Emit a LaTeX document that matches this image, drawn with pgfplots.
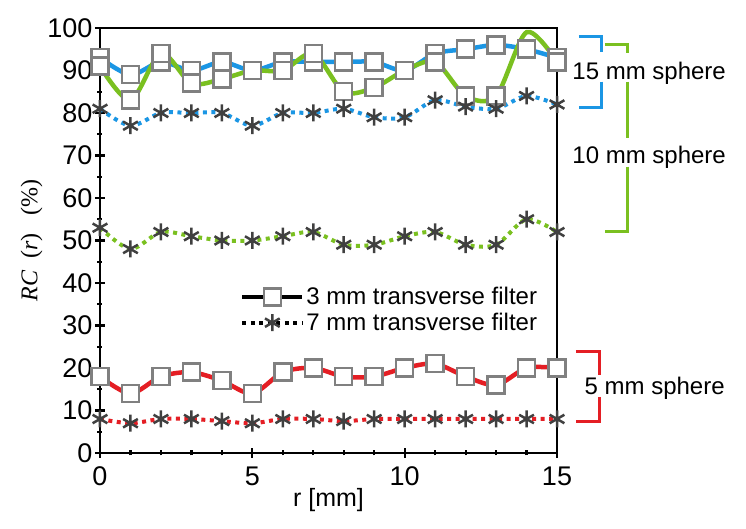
\documentclass[border=0pt]{standalone}
\usepackage{pgfplots}
\pgfplotsset{compat=1.18}
\usepackage{fontspec}
\setmainfont{Liberation Sans}
\newfontfamily\serifLS{Liberation Serif}
\definecolor{cblue}{RGB}{27,150,228}
\definecolor{cgreen}{RGB}{122,192,32}
\definecolor{cred}{RGB}{228,30,36}
\definecolor{mgray}{RGB}{128,128,128}
\definecolor{sgray}{RGB}{64,64,64}
\pgfplotstableread{
x b3 g3 r3 b7 g7 r7
0 93 91 18 81 53 8
1 89 83 14 77 48 7
2 92 94 18 80 52 8
3 90 87 19 80 51 8
4 92 88 17 80 50 7.5
5 90 90 14 77 50 7
6 92 90 19 80 51 8
7 92 94 20 80 52 8
8 92 85 18 81 49 7.5
9 92 86 18 79 49 8
10 90 90 20 79 51 8
11 94 92 21 83 52 8
12 95 84 18 81.5 49 8
13 96 84 16 81 49 8
14 95 99 20 84 55 8
15 93 92 20 82 52 8
}\data
\begin{document}
\begin{tikzpicture}
\pgfplotsset{
  sq/.style={mark=square*, mark size=8.5pt, mark options={solid, fill=white, draw=mgray, line width=2.5pt}},
  st/.style={mark=asterisk, mark size=8.5pt, mark options={solid, draw=sgray, line width=2.5pt}},
  solidline/.style={line width=4.5pt, smooth, tension=0.5},
  dotline/.style={line width=4pt, dash pattern=on 4pt off 4.5pt, smooth, tension=0.5},
}
\begin{axis}[
  name=ax,
  scale only axis, width=457pt, height=425pt,
  xmin=0, xmax=15, ymin=0, ymax=100,
  clip=false,
  axis line style={line width=2.2pt},
  xtick={0,5,10,15}, minor x tick num=4,
  ytick={0,10,...,100}, minor y tick num=1,
  tick pos=left, tick align=center,
  major tick length=10pt, minor tick length=5pt,
  every tick/.style={black, line width=2.2pt},
  tick label style={font=\fontsize{27}{30}\selectfont},
  /pgf/number format/assume math mode=true,
  xticklabel style={yshift=-5pt},
  yticklabel style={xshift=1pt},
  xlabel={r [mm]},
  xlabel style={font=\fontsize{25}{28}\selectfont, yshift=4pt},
  ylabel={{\serifLS\itshape RC}\ \ ({\serifLS\itshape r})\ \ \ ({\serifLS\%})},
  ylabel style={font=\fontsize{24}{28}\selectfont\serifLS, yshift=-2pt},
  legend style={at={(axis cs:4.6,39.5)}, anchor=north west, draw=none, fill=none,
    font=\fontsize{24}{27}\selectfont, row sep=3pt, inner sep=0pt,
    /tikz/every even column/.append style={column sep=3pt}},
  legend cell align=left,
  legend image code/.code={\draw[mark repeat=2,mark phase=2,#1] plot coordinates {(0pt,0pt) (30pt,0pt) (60pt,0pt)};},
]
\addplot[cblue, solidline, forget plot] table[x=x,y=b3] {\data};
\addplot[cgreen, solidline, forget plot] table[x=x,y=g3] {\data};
\addplot[cred, solidline, forget plot] table[x=x,y=r3] {\data};
\addplot[cblue, dotline, forget plot] table[x=x,y=b7] {\data};
\addplot[cgreen, dotline, forget plot] table[x=x,y=g7] {\data};
\addplot[cred, dotline, forget plot] table[x=x,y=r7] {\data};
% markers
\addplot[only marks, sq, forget plot] table[x=x,y=b3] {\data};
\addplot[only marks, sq, mark indices={1,...,14,16}, forget plot] table[x=x,y=g3] {\data};
\addplot[only marks, sq, forget plot] table[x=x,y=r3] {\data};
\addplot[only marks, st, forget plot] table[x=x,y=b7] {\data};
\addplot[only marks, st, forget plot] table[x=x,y=g7] {\data};
\addplot[only marks, st, forget plot] table[x=x,y=r7] {\data};
\addlegendimage{black, line width=4pt, sq}
\addlegendentry{3 mm transverse filter}
\addlegendimage{black, line width=4pt, dash pattern=on 4pt off 4.5pt, st}
\addlegendentry{7 mm transverse filter}
% brackets
\draw[cblue, line width=3pt] (axis cs:15.72,98) -- (axis cs:16.47,98) -- (axis cs:16.47,94.4);
\draw[cblue, line width=3pt] (axis cs:16.47,87.4) -- (axis cs:16.47,81.2) -- (axis cs:15.72,81.2);
\draw[cgreen, line width=3pt] (axis cs:16.57,96) -- (axis cs:17.33,96) -- (axis cs:17.33,94);
\draw[cgreen, line width=3pt] (axis cs:17.33,87.4) -- (axis cs:17.33,74);
\draw[cgreen, line width=3pt] (axis cs:17.33,67.4) -- (axis cs:17.33,52) -- (axis cs:16.57,52);
\draw[cred, line width=3pt] (axis cs:15.62,23.8) -- (axis cs:16.41,23.8) -- (axis cs:16.41,18.4);
\draw[cred, line width=3pt] (axis cs:16.41,13.2) -- (axis cs:16.41,7.3) -- (axis cs:15.62,7.3);
\node[anchor=west, inner sep=0pt, font=\fontsize{24}{27}\selectfont] at (axis cs:15.5,89.4) {15 mm sphere};
\node[anchor=west, inner sep=0pt, font=\fontsize{24}{27}\selectfont] at (axis cs:15.5,69.6) {10 mm sphere};
\node[anchor=west, inner sep=0pt, font=\fontsize{24}{27}\selectfont] at (axis cs:15.9,15.3) {5 mm sphere};
\end{axis}
\pgfresetboundingbox
\path (ax.south west) ++(-100pt,-76pt) rectangle ++(746pt,529pt);
\end{tikzpicture}
\end{document}
